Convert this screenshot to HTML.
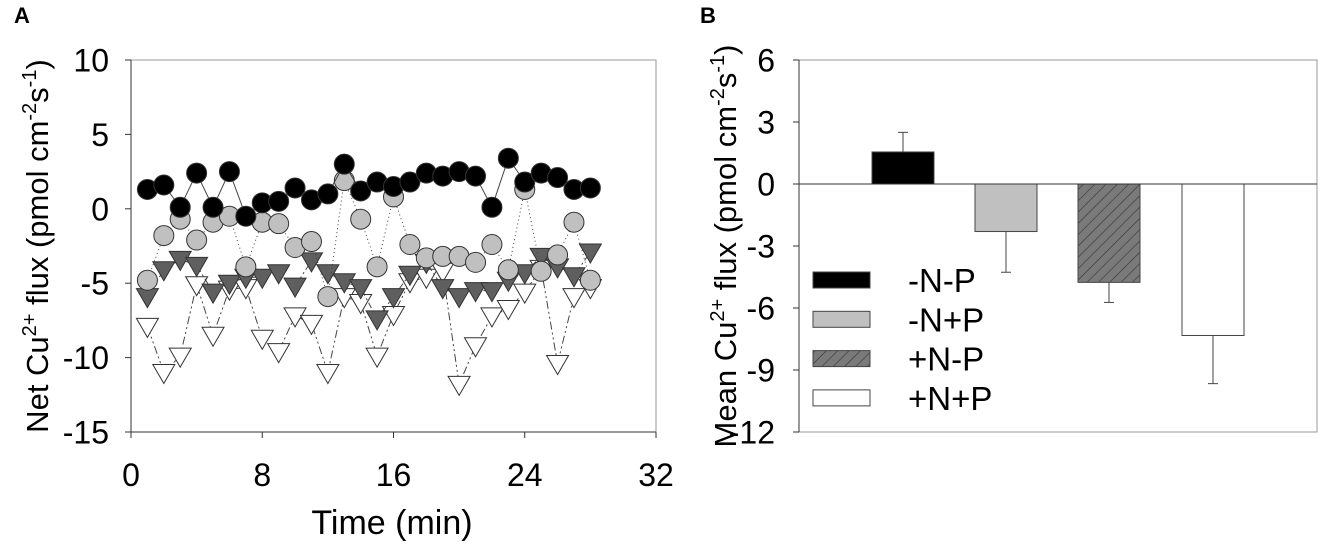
<!DOCTYPE html>
<html><head><meta charset="utf-8"><style>
html,body{margin:0;padding:0;background:#fff;}
svg{display:block;font-family:"Liberation Sans",Arial,sans-serif;}
</style></head><body>
<svg id="chart" width="1318" height="544" viewBox="0 0 1318 544">
<text x="14" y="23" font-size="22" font-weight="bold">A</text>
<text x="700" y="23" font-size="22" font-weight="bold">B</text>
<g id="pa"></g>
<g id="pb"></g>
</svg>
<script>
// Panel A data
const timeMin = [1,2,3,4,5,6,7,8,9,10,11,12,13,14,15,16,17,18,19,20,21,22,23,24,25,26,27,28];
const seriesNP = [1.3,1.6,0.1,2.4,0.1,2.5,-0.5,0.4,0.5,1.4,0.6,1.0,3.0,1.2,1.8,1.5,1.8,2.4,2.2,2.5,2.2,0.1,3.4,1.8,2.4,2.1,1.3,1.4];
const seriesNplusP = [-4.8,-1.8,-0.7,-2.1,-0.9,-0.5,-3.9,-0.9,-1.0,-2.6,-2.2,-5.9,1.9,-0.7,-3.9,0.8,-2.4,-3.3,-3.2,-3.2,-3.6,-2.4,-4.1,1.3,-4.2,-3.1,-0.9,-4.8];
const seriesPlusNminusP = [-5.9,-4.1,-3.4,-3.8,-5.6,-5.0,-4.6,-4.6,-4.3,-5.2,-3.5,-4.3,-4.9,-5.3,-7.4,-5.9,-4.4,-3.6,-5.3,-5.9,-5.5,-5.5,-4.8,-4.3,-3.2,-3.9,-4.5,-2.9];
const seriesPlusNplusP = [-7.9,-11.0,-9.9,-5.1,-8.5,-5.4,-5.3,-8.7,-9.6,-7.2,-7.7,-11.0,-5.9,-6.3,-9.9,-7.1,-4.9,-4.6,-4.2,-11.8,-9.2,-7.2,-6.7,-5.6,-4.0,-10.4,-5.9,-5.3];
const xTicksA = [0,8,16,24,32];
const yTicksA = [10,5,0,-5,-10,-15];
// Panel B data
const groups = ["-N-P","-N+P","+N-P","+N+P"];
const means = [1.55,-2.3,-4.76,-7.33];
const errs = [0.95,1.97,0.97,2.33];
const yTicksB = [6,3,0,-3,-6,-9,-12];

const NS="http://www.w3.org/2000/svg";
function mk(parent,tag,attrs,text){const e=document.createElementNS(NS,tag);for(const k in attrs)e.setAttribute(k,attrs[k]);if(text!==undefined)e.textContent=text;parent.appendChild(e);return e;}
const TF=32;
const titleHTML=(w)=>w+' Cu<tspan dy="-12" font-size="20">2+</tspan><tspan dy="12"> flux (pmol cm</tspan><tspan dy="-12" font-size="20">-2</tspan><tspan dy="12">s</tspan><tspan dy="-12" font-size="20">-1</tspan><tspan dy="12">)</tspan>';

// Panel A
const pa=document.getElementById('pa');
const AL=131,AR=656,AT=60,AB=432;
const xA=t=>AL+(t-0)/32*(AR-AL);
const yA=v=>AT+(10-v)/25*(AB-AT);
let fr=mk(pa,'rect',{x:AL,y:AT,width:AR-AL,height:AB-AT,fill:'none',stroke:'#999','stroke-width':1});


mk(pa,'line',{x1:AL,y1:AT,x2:AL,y2:AB,stroke:'#333','stroke-width':1});
mk(pa,'line',{x1:AL,y1:AB,x2:AR,y2:AB,stroke:'#333','stroke-width':1});
xTicksA.forEach(t=>{
  mk(pa,'line',{x1:xA(t),y1:AB,x2:xA(t),y2:AB+6,stroke:'#333'});
  const l=mk(pa,'text',{x:xA(t),y:486,'font-size':TF,'text-anchor':'middle'},String(t));
  
  
});
yTicksA.forEach(v=>{
  mk(pa,'line',{x1:AL-6,y1:yA(v),x2:AL,y2:yA(v),stroke:'#333'});
  const l=mk(pa,'text',{x:AL-22,y:yA(v)+11.5,'font-size':TF,'text-anchor':'end'},String(v));
  
  
});
let xt=mk(pa,'text',{x:392,y:534,'font-size':34,'text-anchor':'middle'},'Time (min)');


let yt=mk(pa,'text',{transform:'translate(48,246) rotate(-90)','font-size':31,'text-anchor':'middle'});


yt.innerHTML=titleHTML('Net');

const seriesDefs=[
 {d:seriesPlusNplusP,shape:'tri',fill:'#fff',dash:'8 3 2 3 2 3',name:'series-plus-n-plus-p'},
 {d:seriesPlusNminusP,shape:'tri',fill:'#5f5f5f',dash:'6 3 2 3',name:'series-plus-n-minus-p'},
 {d:seriesNplusP,shape:'circ',fill:'#c0c0c0',dash:'1 3',name:'series-minus-n-plus-p'},
 {d:seriesNP,shape:'circ',fill:'#000',dash:'',name:'series-minus-n-minus-p'}
];
seriesDefs.forEach(s=>{
  const g=mk(pa,'g',{});
  
  
  const pts=timeMin.map((t,i)=>xA(t)+','+yA(s.d[i])).join(' ');
  mk(g,'polyline',{points:pts,fill:'none',stroke:'#444','stroke-width':1,'stroke-dasharray':s.dash});
  timeMin.forEach((t,i)=>{
    const cx=xA(t),cy=yA(s.d[i]);
    let m;
    if(s.shape==='circ'){m=mk(g,'circle',{cx:cx,cy:cy,r:10,fill:s.fill,stroke:'#333','stroke-width':1});}
    else{m=mk(g,'polygon',{points:`${cx-11},${cy-8} ${cx+11},${cy-8} ${cx},${cy+11}`,fill:s.fill,stroke:'#333','stroke-width':1});}
    
    
  });
});

// Panel B
const pb=document.getElementById('pb');
const BL=799,BR=1317,BT=60,BB=432;
const yB=v=>BT+(6-v)/18*(BB-BT);
const barX=[872,975,1078,1182], barW=62;
const defs=mk(pb,'defs',{});
const pat=mk(defs,'pattern',{id:'hatch',width:8,height:8,patternUnits:'userSpaceOnUse',patternTransform:'rotate(45)'});
mk(pat,'rect',{x:0,y:0,width:8,height:8,fill:'#7a7a7a'});
mk(pat,'line',{x1:0,y1:0,x2:0,y2:8,stroke:'#333','stroke-width':1.2});
const fills=['#000','#c0c0c0','url(#hatch)','#fff'];
let frb=mk(pb,'rect',{x:BL,y:BT,width:BR-BL,height:BB-BT,fill:'none',stroke:'#999','stroke-width':1});


mk(pb,'line',{x1:BL,y1:BT,x2:BL,y2:BB,stroke:'#333'});
yTicksB.forEach(v=>{
  mk(pb,'line',{x1:BL-6,y1:yB(v),x2:BL,y2:yB(v),stroke:'#333'});
  const l=mk(pb,'text',{x:BL-24,y:yB(v)+11.5,'font-size':TF,'text-anchor':'end'},String(v));
  
  
});
groups.forEach((gname,i)=>{
  const top=Math.min(yB(0),yB(means[i])),h=Math.abs(yB(means[i])-yB(0));
  const r=mk(pb,'rect',{x:barX[i],y:top,width:barW,height:h,fill:fills[i],stroke:'#444','stroke-width':1});
  
  
  const cx=barX[i]+barW/2, e=means[i]+(means[i]>=0?errs[i]:-errs[i]);
  mk(pb,'line',{x1:cx,y1:yB(means[i]),x2:cx,y2:yB(e),stroke:'#444'});
  mk(pb,'line',{x1:cx-5,y1:yB(e),x2:cx+5,y2:yB(e),stroke:'#444'});
});
mk(pb,'line',{x1:BL,y1:yB(0),x2:BR,y2:yB(0),stroke:'#333','stroke-width':1});
groups.forEach((gname,i)=>{
  const y0=272+i*39.3;
  const lg=mk(pb,'g',{});
  
  
  mk(lg,'rect',{x:813,y:y0,width:57,height:16,fill:fills[i],stroke:'#444'});
  mk(lg,'text',{x:908,y:y0+20,'font-size':33},gname);
});
let ytb=mk(pb,'text',{transform:'translate(736,246) rotate(-90)','font-size':31,'text-anchor':'middle'});


ytb.innerHTML=titleHTML('Mean');
</script>
</body></html>
